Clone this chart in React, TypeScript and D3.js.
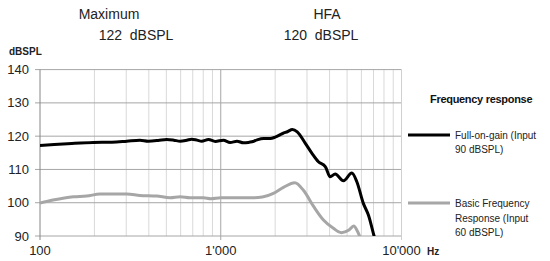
import React from 'react';
import * as d3 from 'd3';

// Full-on-gain curve (Input 90 dBSPL)
const fogFreq = [100, 120, 150, 197, 250, 302, 357, 397, 450, 502, 550, 596, 650, 689, 740, 784, 855, 933, 1034, 1127, 1230, 1336, 1420, 1487, 1589, 1730, 1880, 2000, 2200, 2350, 2489, 2650, 2932, 3190, 3470, 3795, 4030, 4296, 4780, 5310, 5660, 6150, 6560, 7050, 7300];
const fogLevel = [117.2, 117.5, 117.8, 118.1, 118.2, 118.5, 118.8, 118.5, 118.7, 119.0, 118.8, 118.5, 118.8, 119.1, 118.8, 118.5, 119.0, 118.4, 118.8, 118.1, 118.5, 118.0, 118.1, 118.3, 118.9, 119.3, 119.3, 119.7, 120.8, 121.4, 122.0, 121.3, 117.9, 114.9, 112.3, 110.8, 107.8, 108.6, 106.6, 108.9, 106.3, 99.8, 96.3, 90.0, 87.0];

// Basic frequency response (Input 60 dBSPL)
const basicFreq = [100, 118, 153, 181, 215, 302, 357, 442, 525, 596, 676, 803, 880, 1000, 1500, 1700, 1955, 2222, 2570, 2860, 3270, 3700, 4200, 4650, 5120, 5440, 5660, 5860, 6000];
const basicLevel = [99.9, 100.8, 101.8, 102.0, 102.6, 102.6, 102.2, 102.0, 101.5, 101.8, 101.5, 101.5, 101.2, 101.5, 101.5, 101.7, 102.8, 104.6, 106.0, 103.8, 98.8, 94.8, 92.3, 91.0, 91.8, 93.0, 91.8, 90.0, 88.5];

const yTicks = [90, 100, 110, 120, 130, 140];
const xMajor = [100, 1000, 10000];
const xMajorLabels = ['100', "1'000", "10'000"];
const xMinor = [200, 300, 400, 500, 600, 700, 800, 900, 2000, 3000, 4000, 5000, 6000, 7000, 8000, 9000];

const W = 550;
const H = 261;
const font = '"Liberation Sans", Arial, sans-serif';

const App: React.FC = () => {
  const x = d3.scaleLog().domain([100, 10000]).range([40, 401.5]);
  const y = d3.scaleLinear().domain([90, 140]).range([236, 69.6]);

  const line = d3.line<[number, number]>()
    .x(d => x(d[0]))
    .y(d => y(d[1]))
    .curve(d3.curveMonotoneX);

  const fog = fogFreq.map((f, i) => [f, fogLevel[i]] as [number, number]);
  const basic = basicFreq.map((f, i) => [f, basicLevel[i]] as [number, number]);

  const [x0, x1] = x.range();
  const [yb, yt] = y.range();

  return (
    <svg width={W} height={H} style={{ position: 'absolute', left: 0, top: 0, background: '#fff' }} fontFamily={font}>
      <defs>
        <clipPath id="plot">
          <rect x={x0} y={yt} width={x1 - x0} height={yb - yt} />
        </clipPath>
      </defs>

      {/* header */}
      <text x={109} y={19} fontSize={14} textAnchor="middle" fill="#222">Maximum</text>
      <text x={136} y={40} fontSize={14} textAnchor="middle" fill="#222" xmlSpace="preserve">122  dBSPL</text>
      <text x={327} y={19} fontSize={14} textAnchor="middle" fill="#222">HFA</text>
      <text x={321} y={40} fontSize={14} textAnchor="middle" fill="#222" xmlSpace="preserve">120  dBSPL</text>
      <text x={9} y={55} fontSize={10} fontWeight="bold" fill="#222">dBSPL</text>

      {/* minor vertical grid */}
      {xMinor.map(f => (
        <line key={f} x1={x(f)} x2={x(f)} y1={yt} y2={yb} stroke="#d9d9d9" strokeWidth={1} />
      ))}
      {/* horizontal grid */}
      {yTicks.map(v => (
        <line key={v} x1={x0 - 5} x2={x1} y1={y(v)} y2={y(v)} stroke="#a6a6a6" strokeWidth={1} />
      ))}
      {/* major vertical grid */}
      {xMajor.map((f, i) => (
        <line key={f} x1={x(f)} x2={x(f)} y1={yt} y2={yb + 4}
          stroke={i === 0 ? '#868686' : i === 2 ? '#d0d0d0' : '#a6a6a6'} strokeWidth={1} />
      ))}

      {/* y labels */}
      {yTicks.map(v => (
        <text key={v} x={29} y={y(v) + 4.5} fontSize={13} textAnchor="end" fill="#222">{v}</text>
      ))}
      {/* x labels */}
      {xMajor.map((f, i) => (
        <text key={f} x={x(f)} y={255} fontSize={13} textAnchor="middle" fill="#222">{xMajorLabels[i]}</text>
      ))}
      <text x={427} y={255} fontSize={10} fontWeight="bold" fill="#222">Hz</text>

      {/* curves */}
      <g clipPath="url(#plot)">
        <path d={line(basic) || ''} fill="none" stroke="#a6a6a6" strokeWidth={3} strokeLinejoin="round" />
        <path d={line(fog) || ''} fill="none" stroke="#000" strokeWidth={3} strokeLinejoin="round" />
      </g>

      {/* legend */}
      <text x={430} y={103} fontSize={11} fontWeight="bold" fill="#111" letterSpacing={-0.3}>Frequency response</text>
      <line x1={408} x2={450} y1={135} y2={135} stroke="#000" strokeWidth={3} />
      <text x={455} y={139} fontSize={10} fill="#222">Full-on-gain (Input</text>
      <text x={455} y={153} fontSize={10} fill="#222">90 dBSPL)</text>
      <line x1={408} x2={450} y1={203} y2={203} stroke="#a6a6a6" strokeWidth={3} />
      <text x={455} y={207} fontSize={10} fill="#222">Basic Frequency</text>
      <text x={455} y={222} fontSize={10} fill="#222">Response (Input</text>
      <text x={455} y={236} fontSize={10} fill="#222">60 dBSPL)</text>
    </svg>
  );
};

export default App;
